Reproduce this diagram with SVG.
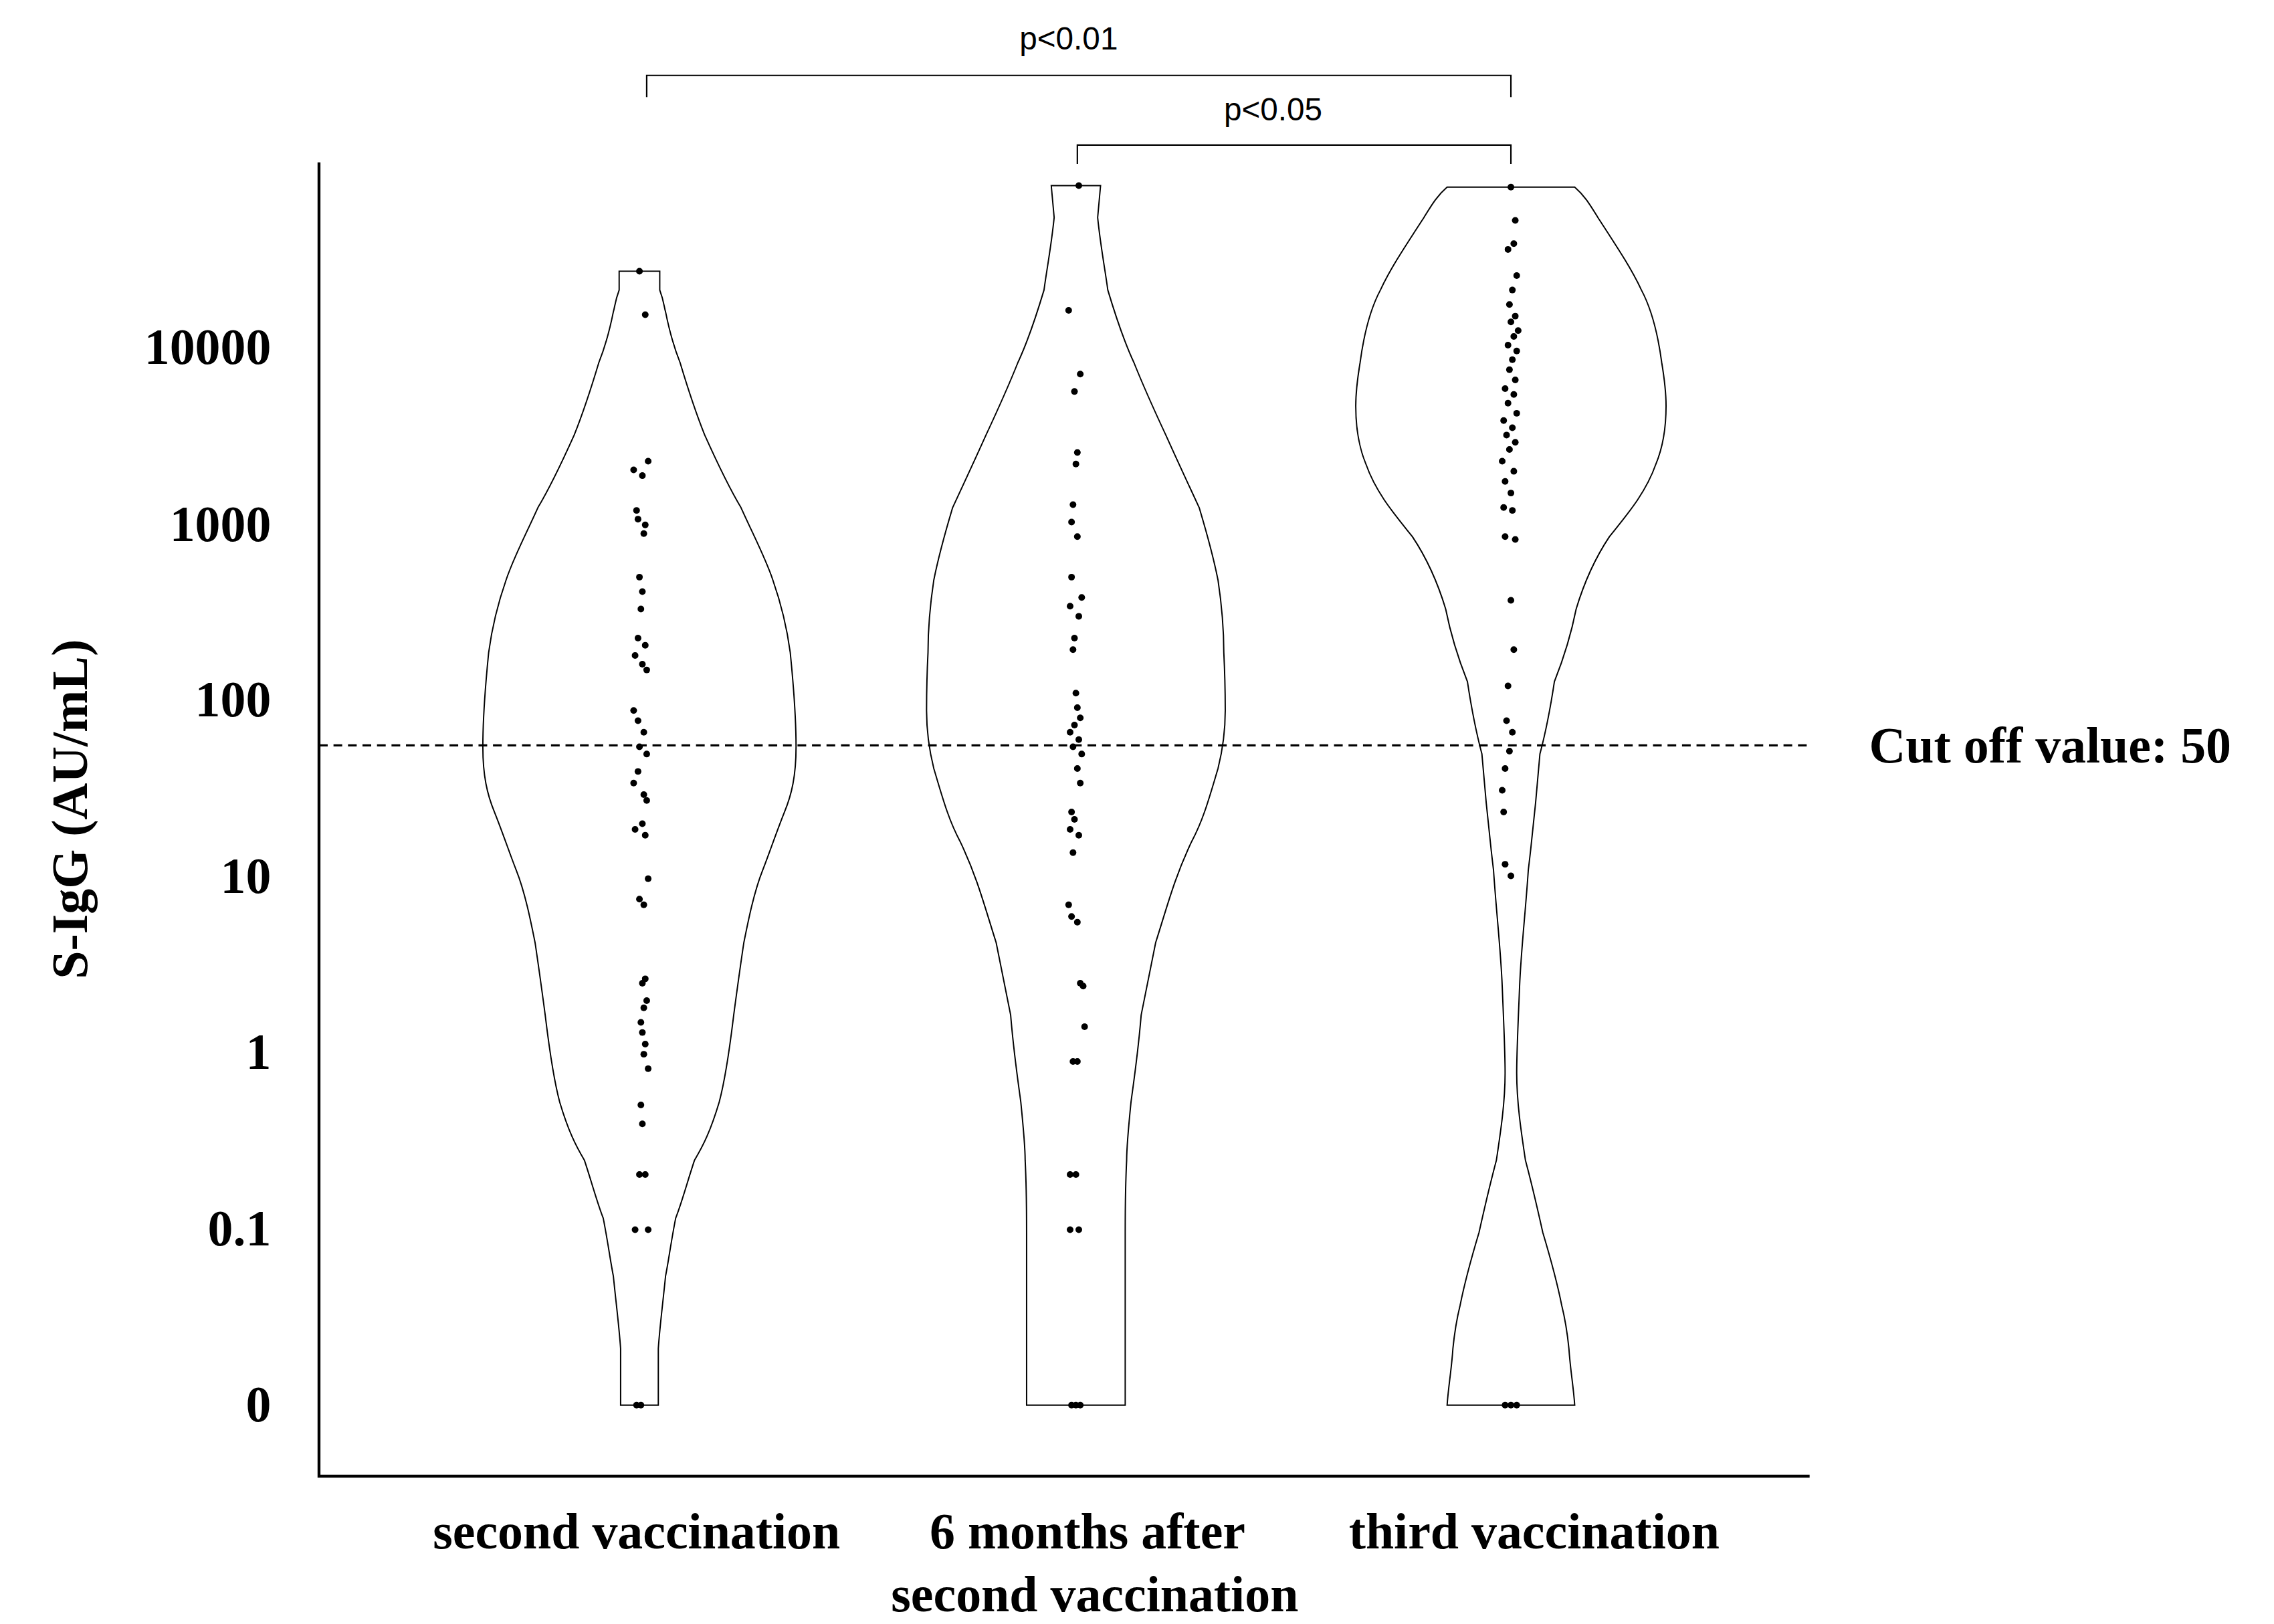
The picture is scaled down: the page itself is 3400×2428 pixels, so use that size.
<svg xmlns="http://www.w3.org/2000/svg" width="3400" height="2428" viewBox="0 0 3400 2428">
<style>
.ax{stroke:#000;stroke-width:2;fill:none}
.v{stroke:#000;stroke-width:0.9;fill:none}
.br{stroke:#000;stroke-width:1;fill:none}
.tk{font-family:"Liberation Serif",serif;font-weight:bold;font-size:35px;text-anchor:end}
.xl{font-family:"Liberation Serif",serif;font-weight:bold;font-size:35px;text-anchor:middle}
.p{font-family:"Liberation Sans",sans-serif;font-size:22px;text-anchor:middle}
.d{fill:#000}
</style>
<rect width="3400" height="2428" fill="#fff"/>
<g transform="scale(2.168)">
<g id="axes">
<path class="ax" d="M220 112V1018H1248"/>
<text class="tk" x="187" y="251">10000</text>
<text class="tk" x="187" y="373">1000</text>
<text class="tk" x="187" y="494">100</text>
<text class="tk" x="187" y="616">10</text>
<text class="tk" x="187" y="737">1</text>
<text class="tk" x="187" y="859">0.1</text>
<text class="tk" x="187" y="980">0</text>
<text class="xl" transform="translate(60,558) rotate(-90)" font-size="44">S-IgG (AU/mL)</text>
<text class="xl" x="439" y="1068">second vaccination</text>
<text class="xl" x="750" y="1068">6 months after</text>
<text class="xl" x="755" y="1111">second vaccination</text>
<text class="xl" x="1058" y="1068">third vaccination</text>
</g>
<g id="cutoff">
<line x1="220" y1="514" x2="1248" y2="514" stroke="#000" stroke-width="1.5" stroke-dasharray="6,4"/>
<text x="1289" y="526" font-family="Liberation Serif,serif" font-weight="bold" font-size="35">Cut off value: 50</text>
</g>
<g id="connectors">
<path class="br" d="M446 67V52H1042V67"/>
<path class="br" d="M743 113V100H1042V113"/>
<text class="p" x="737" y="34">p&lt;0.01</text>
<text class="p" x="878" y="83">p&lt;0.05</text>
</g>
<g id="violin1">
<path class="v" d="M427 187H455L455 200C458 208 458 212 459 215C462 230 465 240 469 250C475 270 480 285 486 300C495 320 502 335 511 350C520 370 528 385 533 400C540 420 543 435 545 450C548 480 549 500 549 515C549 535 546 548 541 560C535 575 530 590 526 600C520 615 516 635 513 650C510 670 508 685 506 700C503 725 500 745 496 760C490 780 485 790 479 800C474 815 470 830 466 840C463 855 461 870 459 880C457 900 455 915 454 930V969H428V930C427 915 425 900 423 880C421 870 419 855 416 840C412 830 408 815 403 800C397 790 392 780 386 760C382 745 379 725 376 700C374 685 372 670 369 650C366 635 362 615 356 600C352 590 347 575 341 560C336 548 333 535 333 515C333 500 334 480 337 450C339 435 342 420 349 400C354 385 362 370 371 350C380 335 387 320 396 300C402 285 407 270 413 250C417 240 420 230 423 215C424 212 424 208 427 200Z"/>
</g>
<g id="violin2">
<path class="v" d="M725 128H759L757 150C759 170 762 185 764 200C770 220 775 235 782 250C790 270 797 285 804 300C813 320 820 335 827 350C833 370 837 385 840 400C843 420 844 435 844 450C845 470 845 480 845 490C845 505 843 518 840 530C834 550 830 565 822 580C810 605 805 625 797 650C793 670 790 685 787 700C785 725 782 745 780 760C778 780 777 790 777 800C776 820 776 835 776 850V969H708V850C708 835 708 820 707 800C707 790 706 780 704 760C702 745 699 725 697 700C694 685 691 670 687 650C679 625 674 605 662 580C654 565 650 550 644 530C641 518 639 505 639 490C639 480 639 470 640 450C640 435 641 420 644 400C647 385 651 370 657 350C664 335 671 320 680 300C687 285 694 270 702 250C709 235 714 220 720 200C722 185 725 170 727 150Z"/>
</g>
<g id="violin3">
<path class="v" d="M998 129H1086C1093 135 1097 142 1102 150C1115 170 1125 185 1132 200C1140 215 1144 235 1146 250C1148 262 1149 272 1149 280C1149 295 1147 308 1142 320C1135 340 1122 355 1110 370C1100 385 1093 400 1087 420C1083 440 1078 455 1072 470C1069 490 1066 505 1062 520C1060 545 1057 575 1054 600C1052 630 1049 655 1048 680C1047 705 1046 725 1046 740C1046 760 1049 780 1052 800C1056 815 1060 832 1064 850C1070 870 1074 885 1077 900C1080 912 1081 920 1082 930C1083 945 1085 955 1086 969H998C999 955 1001 945 1002 930C1003 920 1004 912 1007 900C1010 885 1014 870 1020 850C1024 832 1028 815 1032 800C1035 780 1038 760 1038 740C1038 725 1037 705 1036 680C1035 655 1032 630 1030 600C1027 575 1024 545 1022 520C1018 505 1015 490 1012 470C1006 455 1001 440 997 420C991 400 984 385 974 370C962 355 949 340 942 320C937 308 935 295 935 280C935 272 936 262 938 250C940 235 944 215 952 200C959 185 969 170 982 150C987 142 991 135 998 129Z"/>
</g>
<g id="dots1" class="d">
<circle cx="441" cy="187" r="2.3"/><circle cx="445" cy="217" r="2.3"/><circle cx="447" cy="318" r="2.3"/><circle cx="437" cy="324" r="2.3"/><circle cx="443" cy="328" r="2.3"/><circle cx="439" cy="352" r="2.3"/><circle cx="440" cy="358" r="2.3"/><circle cx="445" cy="362" r="2.3"/><circle cx="444" cy="368" r="2.3"/><circle cx="441" cy="398" r="2.3"/><circle cx="443" cy="408" r="2.3"/><circle cx="442" cy="420" r="2.3"/><circle cx="440" cy="440" r="2.3"/><circle cx="445" cy="445" r="2.3"/><circle cx="438" cy="452" r="2.3"/><circle cx="443" cy="458" r="2.3"/><circle cx="446" cy="462" r="2.3"/><circle cx="437" cy="490" r="2.3"/><circle cx="440" cy="497" r="2.3"/><circle cx="444" cy="505" r="2.3"/><circle cx="441" cy="515" r="2.3"/><circle cx="446" cy="520" r="2.3"/><circle cx="440" cy="532" r="2.3"/><circle cx="437" cy="540" r="2.3"/><circle cx="444" cy="548" r="2.3"/><circle cx="446" cy="552" r="2.3"/><circle cx="443" cy="568" r="2.3"/><circle cx="438" cy="572" r="2.3"/><circle cx="445" cy="576" r="2.3"/><circle cx="447" cy="606" r="2.3"/><circle cx="441" cy="620" r="2.3"/><circle cx="444" cy="624" r="2.3"/><circle cx="445" cy="675" r="2.3"/><circle cx="443" cy="678" r="2.3"/><circle cx="446" cy="690" r="2.3"/><circle cx="444" cy="695" r="2.3"/><circle cx="442" cy="705" r="2.3"/><circle cx="443" cy="712" r="2.3"/><circle cx="445" cy="720" r="2.3"/><circle cx="444" cy="727" r="2.3"/><circle cx="447" cy="737" r="2.3"/><circle cx="442" cy="762" r="2.3"/><circle cx="443" cy="775" r="2.3"/><circle cx="441" cy="810" r="2.3"/><circle cx="445" cy="810" r="2.3"/><circle cx="438" cy="848" r="2.3"/><circle cx="447" cy="848" r="2.3"/><circle cx="439" cy="969" r="2.3"/><circle cx="442" cy="969" r="2.3"/>
</g>
<g id="dots2" class="d">
<circle cx="744" cy="128" r="2.3"/><circle cx="737" cy="214" r="2.3"/><circle cx="745" cy="258" r="2.3"/><circle cx="741" cy="270" r="2.3"/><circle cx="743" cy="312" r="2.3"/><circle cx="742" cy="320" r="2.3"/><circle cx="740" cy="348" r="2.3"/><circle cx="739" cy="360" r="2.3"/><circle cx="743" cy="370" r="2.3"/><circle cx="739" cy="398" r="2.3"/><circle cx="746" cy="412" r="2.3"/><circle cx="738" cy="418" r="2.3"/><circle cx="744" cy="425" r="2.3"/><circle cx="741" cy="440" r="2.3"/><circle cx="740" cy="448" r="2.3"/><circle cx="742" cy="478" r="2.3"/><circle cx="743" cy="488" r="2.3"/><circle cx="745" cy="495" r="2.3"/><circle cx="741" cy="500" r="2.3"/><circle cx="738" cy="505" r="2.3"/><circle cx="744" cy="510" r="2.3"/><circle cx="740" cy="515" r="2.3"/><circle cx="746" cy="520" r="2.3"/><circle cx="743" cy="530" r="2.3"/><circle cx="745" cy="540" r="2.3"/><circle cx="739" cy="560" r="2.3"/><circle cx="741" cy="565" r="2.3"/><circle cx="738" cy="572" r="2.3"/><circle cx="744" cy="576" r="2.3"/><circle cx="740" cy="588" r="2.3"/><circle cx="737" cy="624" r="2.3"/><circle cx="739" cy="632" r="2.3"/><circle cx="743" cy="636" r="2.3"/><circle cx="745" cy="678" r="2.3"/><circle cx="747" cy="680" r="2.3"/><circle cx="748" cy="708" r="2.3"/><circle cx="740" cy="732" r="2.3"/><circle cx="743" cy="732" r="2.3"/><circle cx="738" cy="810" r="2.3"/><circle cx="742" cy="810" r="2.3"/><circle cx="738" cy="848" r="2.3"/><circle cx="744" cy="848" r="2.3"/><circle cx="739" cy="969" r="2.3"/><circle cx="742" cy="969" r="2.3"/><circle cx="745" cy="969" r="2.3"/>
</g>
<g id="dots3" class="d">
<circle cx="1042" cy="129" r="2.3"/><circle cx="1045" cy="152" r="2.3"/><circle cx="1044" cy="168" r="2.3"/><circle cx="1040" cy="172" r="2.3"/><circle cx="1046" cy="190" r="2.3"/><circle cx="1043" cy="200" r="2.3"/><circle cx="1041" cy="210" r="2.3"/><circle cx="1045" cy="218" r="2.3"/><circle cx="1042" cy="222" r="2.3"/><circle cx="1047" cy="228" r="2.3"/><circle cx="1044" cy="232" r="2.3"/><circle cx="1040" cy="238" r="2.3"/><circle cx="1046" cy="242" r="2.3"/><circle cx="1043" cy="248" r="2.3"/><circle cx="1041" cy="255" r="2.3"/><circle cx="1045" cy="262" r="2.3"/><circle cx="1038" cy="268" r="2.3"/><circle cx="1044" cy="272" r="2.3"/><circle cx="1040" cy="278" r="2.3"/><circle cx="1046" cy="285" r="2.3"/><circle cx="1037" cy="290" r="2.3"/><circle cx="1043" cy="295" r="2.3"/><circle cx="1039" cy="300" r="2.3"/><circle cx="1045" cy="305" r="2.3"/><circle cx="1041" cy="310" r="2.3"/><circle cx="1036" cy="318" r="2.3"/><circle cx="1044" cy="325" r="2.3"/><circle cx="1038" cy="332" r="2.3"/><circle cx="1042" cy="340" r="2.3"/><circle cx="1037" cy="350" r="2.3"/><circle cx="1043" cy="352" r="2.3"/><circle cx="1038" cy="370" r="2.3"/><circle cx="1045" cy="372" r="2.3"/><circle cx="1042" cy="414" r="2.3"/><circle cx="1044" cy="448" r="2.3"/><circle cx="1040" cy="473" r="2.3"/><circle cx="1039" cy="497" r="2.3"/><circle cx="1043" cy="505" r="2.3"/><circle cx="1041" cy="518" r="2.3"/><circle cx="1038" cy="530" r="2.3"/><circle cx="1036" cy="545" r="2.3"/><circle cx="1037" cy="560" r="2.3"/><circle cx="1038" cy="596" r="2.3"/><circle cx="1042" cy="604" r="2.3"/><circle cx="1038" cy="969" r="2.3"/><circle cx="1042" cy="969" r="2.3"/><circle cx="1046" cy="969" r="2.3"/>
</g>
</g>
</svg>
